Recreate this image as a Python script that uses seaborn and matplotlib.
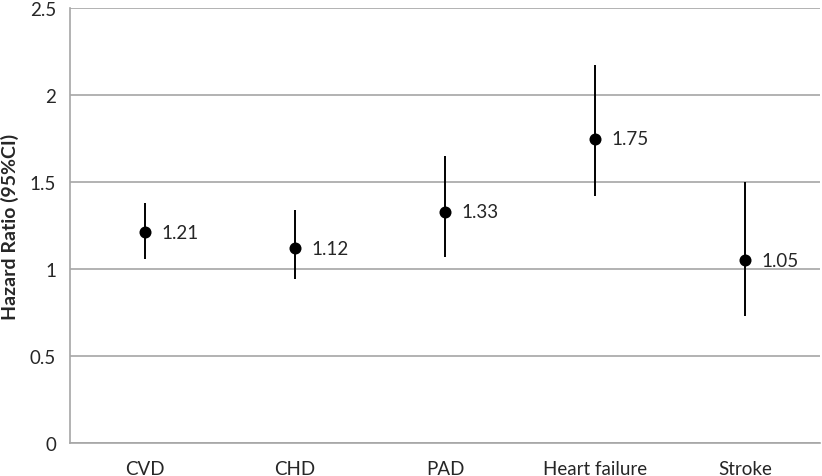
import numpy as np
import pandas as pd
import matplotlib
matplotlib.use('Agg')
import matplotlib.pyplot as plt
from matplotlib.ticker import FixedLocator
import seaborn as sns

# Values
outcomes = ['CVD', 'CHD', 'PAD', 'Heart failure', 'Stroke']
hazard_ratio = [1.21, 1.12, 1.33, 1.75, 1.05]
ci_lower = [1.06, 0.94, 1.07, 1.42, 0.73]
ci_upper = [1.38, 1.34, 1.65, 2.17, 1.50]

df = pd.DataFrame({'outcome': outcomes, 'hr': hazard_ratio,
                   'lo': ci_lower, 'hi': ci_upper})

sns.set_style('white')
plt.rcParams['font.family'] = ['Lato', 'DejaVu Sans']

fig = plt.figure(figsize=(8.22, 4.77), dpi=100)
ax = fig.add_axes([70 / 822, 33 / 477, 750 / 822, 435 / 477])

grid_col = '#a6a6a6'
fs = 13.5
ax.vlines(df.index, df['lo'], df['hi'], color='black', lw=1.4, zorder=3)
sns.scatterplot(data=df, x='outcome', y='hr', ax=ax, color='black',
                s=75, edgecolor='black', linewidth=0, zorder=4)

for i, v in enumerate(hazard_ratio):
    ax.annotate(f'{v:.2f}', (i, v), xytext=(12, 0), textcoords='offset points',
                va='center', ha='left', fontsize=fs)

ax.set_xlim(-0.5, len(outcomes) - 0.5)
ax.set_ylim(0, 2.5)
ax.set_yticks(np.arange(0, 2.51, 0.5))
ax.set_yticklabels(['0', '0.5', '1', '1.5', '2', '2.5'], fontsize=fs)
ax.yaxis.grid(True, color=grid_col, lw=1.2)
ax.set_axisbelow(True)

ax.set_xticks(range(len(outcomes)))
ax.set_xticklabels(outcomes, fontsize=fs)
ax.xaxis.set_minor_locator(FixedLocator(np.arange(-0.5, len(outcomes), 1.0)))
ax.tick_params(axis='x', which='major', length=0, pad=12)
ax.tick_params(axis='x', which='minor', length=5, color=grid_col, width=1.2, direction='out')
ax.tick_params(axis='y', length=6, color=grid_col, width=1.2, direction='out', pad=4)

for side in ['top', 'right']:
    ax.spines[side].set_visible(False)
for side in ['left', 'bottom']:
    ax.spines[side].set_color(grid_col)
    ax.spines[side].set_linewidth(1.2)

ax.set_xlabel('')
ax.set_ylabel('Hazard Ratio (95%CI)', fontsize=14, fontweight='bold', labelpad=8)

fig.savefig('out.png', dpi=100)
